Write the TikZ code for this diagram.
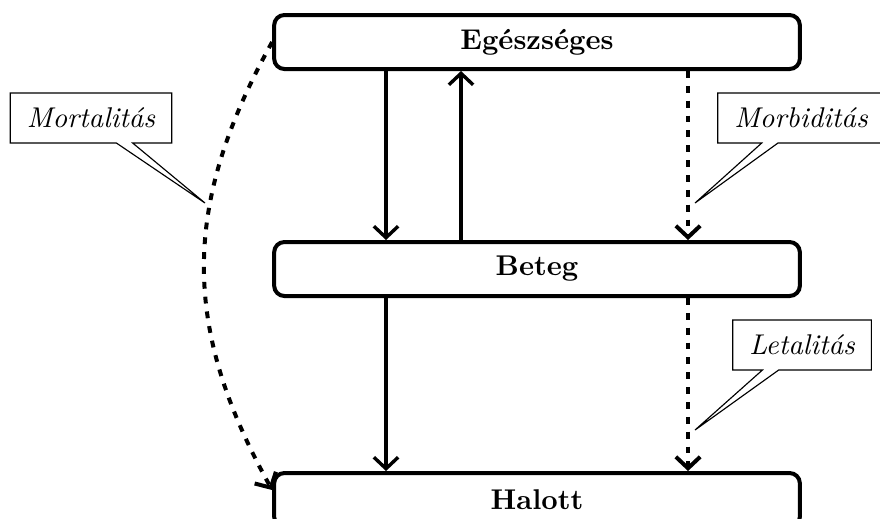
\documentclass[tikz,border=0pt]{standalone}
\usetikzlibrary{arrows.meta,shapes.callouts}
\begin{document}
\begin{tikzpicture}[x=0.35pt,y=-0.35pt,
  state/.style={draw,line width=1.4pt,rounded corners=3.6pt,
    minimum width=184pt,minimum height=18.9pt,inner sep=0pt,font=\bfseries},
  flow/.style={line width=1.2pt,-{Straight Barb[length=4pt,width=8.5pt]}},
  rate/.style={flow,line width=1.4pt,dash pattern=on 2.4pt off 2.8pt},
  note/.style={rectangle callout,draw,thin,fill=white,font=\itshape,
    inner xsep=5.8pt,inner ysep=0pt,minimum height=17.5pt,
    callout pointer width=0.2cm}]
  \clip (0,0) rectangle (880,518);

  % states
  \node[state] (healthy) at (537,42) {Egészséges};
  \node[state] (ill)     at (537,269) {Beteg};
  \node[state] (dead)    at (537,500) {Halott};

  % transitions between the states
  \draw[flow] (healthy.south -| 386,0) -- (ill.north -| 386,0);
  \draw[flow] (ill.north -| 461,0) -- (healthy.south -| 461,0);
  \draw[rate] (healthy.south -| 688,0) -- (ill.north -| 688,0);
  \draw[flow] (ill.south -| 386,0) -- (dead.north -| 386,0);
  \draw[rate] (ill.south -| 688,0) -- (dead.north -| 688,0);
  \draw[rate] (healthy.west) to[bend right=29,looseness=1.07]
    ([yshift=3.5pt]dead.west);

  % labels pointing at the rate arrows
  \coordinate (pmort) at (205,203);
  \coordinate (pmorb) at (695,203);
  \coordinate (plet)  at (695,430);
  \node[note,callout absolute pointer=(pmort)] (mort) at (91,118) {Mortalitás};
  \node[note,callout absolute pointer=(pmorb)] (morb) at (801,118) {Morbiditás};
  \node[note,callout absolute pointer=(plet)]  (let)  at (802,345) {Letalitás};
\end{tikzpicture}
\end{document}
